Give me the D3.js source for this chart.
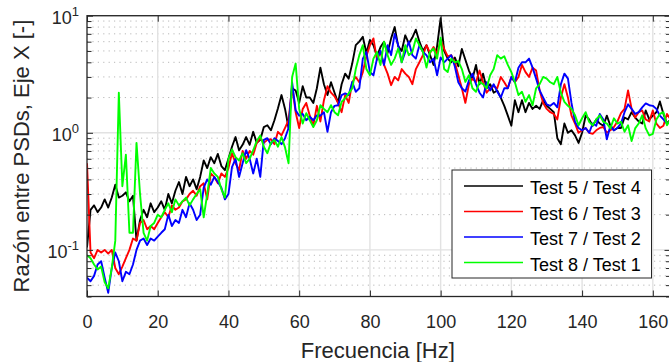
<!DOCTYPE html>
<html><head><meta charset="utf-8">
<script src="https://cdn.jsdelivr.net/npm/d3@7/dist/d3.min.js"></script>
<style>
body{margin:0;background:#fff;}
svg{display:block;font-family:"Liberation Sans",Arial,Helvetica,sans-serif;}
</style>
</head><body>
<svg id="c" width="669" height="362"></svg>
<script>
// ---------- data ----------
const freq = d3.range(0, 166); // Hz, 1 Hz sampling
const test5_4 = [0.105,0.22,0.24,0.21,0.23,0.27,0.23,0.28,0.36,0.28,0.29,0.31,0.26,0.29,0.12,0.18,0.22,0.19,0.25,0.21,0.23,
0.26,0.22,0.3,0.25,0.32,0.38,0.3,0.42,0.35,0.4,0.33,
0.42,0.58,0.5,0.62,0.55,0.66,0.52,0.48,0.6,
0.76,0.92,0.71,0.79,0.92,0.79,1.02,0.82,0.87,1.12,1.16,1.05,1.28,1.62,2.1,1.6,1.1,2.4,2.3,1.8,2.5,
2.0,2.0,1.8,2.4,3.6,2.6,2.1,2.7,2.2,1.8,2.6,3.2,2.9,3.9,5.6,6.0,6.6,4.8,6.2,5.6,4.5,5.4,6.0,4.8,6.4,8.0,5.5,5.0,6.8,5.8,6.5,7.6,6.0,5.0,5.6,4.6,3.8,5.5,9.5,
5.0,4.3,4.0,4.4,3.7,5.2,4.2,3.4,2.9,3.8,2.6,3.2,2.4,2.6,2.2,2.3,2.0,1.7,1.4,1.15,1.9,1.5,1.9,1.5,1.8,1.6,1.7,1.6,1.9,1.7,1.6,
1.5,0.9,0.8,1.2,1.0,1.05,0.95,0.82,1.0,1.4,1.3,1.15,1.3,1.2,1.15,1.4,1.15,1.05,1.1,1.1,1.35,1.3,1.5,1.35,1.25,1.2,1.55,1.3,1.4,1.5,1.85,1.45,1.2,1.3];
const test6_3 = [0.55,0.095,0.085,0.1,0.095,0.1,0.093,0.1,0.07,0.062,0.072,0.085,0.1,0.125,0.12,0.17,0.18,0.15,0.16,0.15,
0.17,0.19,0.21,0.19,0.24,0.22,0.23,0.26,0.27,0.3,0.32,0.29,0.35,0.37,0.27,0.45,0.42,0.37,0.45,0.42,0.5,
0.67,0.55,0.48,0.7,0.6,0.7,0.65,0.82,0.9,0.82,0.87,0.88,0.8,1.02,0.95,1.1,1.28,2.5,1.5,1.1,
1.6,1.8,1.4,1.15,1.7,1.25,1.9,2.5,2.2,2.05,1.8,1.5,2.1,1.8,2.7,3.0,2.7,3.3,4.5,5.6,
6.4,4.2,4.9,3.8,3.2,2.55,3.0,2.8,3.5,3.2,3.0,2.6,3.5,4.0,4.6,5.6,4.8,5.4,4.7,6.2,
5.2,4.5,4.6,4.0,3.1,2.4,1.8,2.6,2.9,2.7,3.4,2.7,2.2,2.4,2.5,2.4,3.0,2.7,2.4,3.0,
2.7,3.0,3.8,3.3,3.0,3.6,3.4,2.3,1.8,1.6,1.5,1.45,1.3,2.0,2.6,2.0,1.4,1.2,1.0,1.05,
1.1,1.0,0.98,1.05,1.1,1.12,1.0,1.05,1.12,1.25,1.47,1.6,2.3,1.6,1.35,1.5,1.55,1.3,1.25,1.55,1.2,1.1,1.15,1.45,1.3];
const test7_2 = [0.058,0.054,0.06,0.075,0.08,0.058,0.043,0.07,0.095,0.08,0.054,0.065,0.062,0.075,0.1,0.12,0.125,0.11,0.125,0.12,0.13,
0.14,0.15,0.2,0.16,0.18,0.17,0.22,0.19,0.25,0.22,0.18,0.2,0.34,0.4,0.36,0.42,0.38,0.34,0.27,0.3,
0.51,0.6,0.42,0.55,0.71,0.6,0.45,0.6,0.42,0.87,0.9,0.8,0.9,0.85,0.8,0.9,1.1,2.7,1.56,1.4,
1.45,1.28,1.37,1.28,1.41,1.4,1.5,1.02,1.5,1.7,1.72,2.1,2.17,2.1,2.72,2.24,2.4,4.3,4.9,3.3,
3.1,4.3,5.0,3.8,5.6,4.6,7.0,5.6,4.0,4.9,6.0,4.6,4.3,5.6,4.9,4.6,4.0,4.3,3.1,4.4,
4.0,4.3,4.6,3.7,2.7,2.4,2.25,2.8,3.2,2.6,2.2,2.0,2.7,2.3,2.6,2.25,2.0,2.4,2.4,3.0,
2.7,3.6,4.0,4.0,4.3,3.6,2.9,2.3,2.0,1.75,1.7,1.8,1.65,2.6,3.2,2.9,1.8,1.24,1.1,1.05,
1.1,1.0,1.2,1.15,1.45,1.3,0.88,1.15,1.05,1.1,1.2,1.5,1.75,1.6,1.45,1.5,1.65,1.78,1.72,1.7,1.6,1.4,1.3,1.2,1.25];
const test8_1 = [0.09,0.085,0.075,0.068,0.072,0.053,0.047,0.07,0.12,2.2,0.35,0.65,0.14,0.14,0.82,0.3,0.14,0.12,0.16,0.17,0.2,
0.19,0.22,0.25,0.21,0.27,0.24,0.26,0.28,0.24,0.27,0.3,
0.33,0.19,0.3,0.5,0.45,0.42,0.33,0.28,0.6,0.72,0.62,0.58,0.67,0.55,0.6,0.71,0.85,0.95,0.76,
0.67,0.82,0.87,0.76,0.92,0.75,0.55,3.0,3.9,1.6,1.2,1.47,1.28,1.12,1.28,
1.72,1.6,1.5,1.72,1.5,1.41,1.84,1.96,2.17,2.39,3.5,4.6,5.6,3.5,3.1,4.3,4.9,3.8,6.0,4.6,
3.8,4.3,5.25,4.0,5.6,4.6,4.9,6.4,5.6,4.9,3.6,4.9,5.25,4.3,6.5,
3.5,3.3,4.3,4.0,4.1,3.5,2.72,3.1,2.4,2.24,2.72,2.6,2.4,3.1,3.5,4.6,4.3,4.5,3.8,3.3,
2.7,2.1,2.24,1.84,2.1,1.72,2.4,2.6,3.0,2.9,2.7,2.6,3.0,2.2,1.84,1.7,1.6,1.41,1.16,1.33,
1.5,1.24,1.16,1.3,1.41,1.24,1.2,1.09,1.33,1.2,1.24,1.02,1.16,0.85,1.09,1.2,1.41,1.09,0.95,0.98,1.3,1.45,1.5,1.16,1.3];

const seriesNames = ["Test 5 / Test 4", "Test 6 / Test 3", "Test 7 / Test 2", "Test 8 / Test 1"];
const seriesValues = [test5_4, test6_3, test7_2, test8_1];
const seriesColors = ["#000000", "#ff0000", "#0000ff", "#00ff00"];
const xTicks = [0, 20, 40, 60, 80, 100, 120, 140, 160];
const yMajor = [0.1, 1, 10];
const yExpLabels = ["-1", "0", "1"];
const xDomain = [0, 165];
const yDomain = [0.04, 10];

// ---------- layout ----------
const L = 87, R = 670.5, T = 15.7, B = 296.5;
const axisColor = "#262626";
const svg = d3.select("#c");
svg.append("rect").attr("width", 669).attr("height", 362).attr("fill", "#fff");

const x = d3.scaleLinear().domain(xDomain).range([L, R]);
const y = d3.scaleLog().domain(yDomain).range([B, T]);

const yMinor = [];
[0.01, 0.1, 1].forEach(d => { for (let k = 2; k <= 9; k++) { const v = d * k; if (v >= yDomain[0] && v <= yDomain[1]) yMinor.push(v); } });

// ---------- grid ----------
const grid = svg.append("g");
grid.selectAll("line.ymin").data(yMinor).join("line")
  .attr("x1", L).attr("x2", R).attr("y1", d => y(d)).attr("y2", d => y(d))
  .attr("stroke", "#b8b8b8").attr("stroke-width", 1).attr("stroke-dasharray", "1.2,4.2");
grid.selectAll("line.xg").data(xTicks.filter(d => d > 0)).join("line")
  .attr("x1", d => x(d)).attr("x2", d => x(d)).attr("y1", T).attr("y2", B)
  .attr("stroke", "#e2e2e2").attr("stroke-width", 1.4);
grid.selectAll("line.yg").data(yMajor).join("line")
  .attr("x1", L).attr("x2", R).attr("y1", d => y(d)).attr("y2", d => y(d))
  .attr("stroke", "#e2e2e2").attr("stroke-width", 1.4);

// ---------- lines ----------
svg.append("clipPath").attr("id", "clip").append("rect")
  .attr("x", L).attr("y", T).attr("width", R - L).attr("height", B - T);
const line = d3.line().x((d, i) => x(freq[i])).y(d => y(d));
const plot = svg.append("g").attr("clip-path", "url(#clip)");
seriesValues.forEach((vals, k) => {
  plot.append("path").datum(vals).attr("d", line)
    .attr("fill", "none").attr("stroke", seriesColors[k])
    .attr("stroke-width", 1.9).attr("stroke-linejoin", "round");
});

// ---------- axes ----------
function styleAxis(g) {
  g.select(".domain").remove();
  g.selectAll(".tick line").attr("stroke", axisColor).attr("stroke-width", 1);
  g.selectAll(".tick text").attr("fill", axisColor);
}
svg.append("g").attr("transform", `translate(0,${B})`)
  .call(d3.axisBottom(x).tickValues(xTicks).tickSize(-6).tickPadding(18.5).tickFormat(d3.format("d")))
  .call(styleAxis)
  .call(g => g.selectAll(".tick text").attr("font-size", 18).attr("font-family", "Liberation Sans, Arial, sans-serif"));
svg.append("g").attr("transform", `translate(0,${T})`)
  .call(d3.axisTop(x).tickValues(xTicks).tickSize(-6).tickFormat(""))
  .call(styleAxis);
svg.append("g").attr("transform", `translate(${L},0)`)
  .call(d3.axisLeft(y).tickValues(yMajor).tickSize(-6).tickFormat(""))
  .call(styleAxis);
svg.append("g").attr("transform", `translate(${L},0)`)
  .call(d3.axisLeft(y).tickValues(yMinor).tickSize(-4.5).tickFormat(""))
  .call(styleAxis);
svg.append("g").attr("transform", `translate(${R},0)`)
  .call(d3.axisRight(y).tickValues(yMajor).tickSize(-6).tickFormat(""))
  .call(styleAxis);
svg.append("g").attr("transform", `translate(${R},0)`)
  .call(d3.axisRight(y).tickValues(yMinor).tickSize(-4.5).tickFormat(""))
  .call(styleAxis);

// y tick labels 10^n
const yl = svg.append("g").attr("fill", axisColor).attr("font-size", 18);
yMajor.forEach((v, i) => {
  const t = yl.append("text").attr("x", L - 8).attr("y", y(v) + 8).attr("text-anchor", "end");
  t.append("tspan").text("10");
  t.append("tspan").attr("dy", -8).attr("font-size", 13).text(yExpLabels[i]);
});

// box
svg.append("rect").attr("x", L).attr("y", T).attr("width", R - L).attr("height", B - T)
  .attr("fill", "none").attr("stroke", axisColor).attr("stroke-width", 1.3);

// axis labels
svg.append("text").attr("x", (L + R) / 2 - 1).attr("y", 357.5).attr("text-anchor", "middle")
  .attr("font-size", 22).attr("fill", axisColor).text("Frecuencia [Hz]");
svg.append("text").attr("transform", `translate(29,${(T + B) / 2}) rotate(-90)`)
  .attr("text-anchor", "middle").attr("font-size", 22).attr("fill", axisColor)
  .text("Razón entre PSDs, Eje X [-]");

// ---------- legend ----------
const lg = svg.append("g");
lg.append("rect").attr("x", 452).attr("y", 170).attr("width", 199.5).attr("height", 108)
  .attr("fill", "#fff").attr("stroke", axisColor).attr("stroke-width", 1);
seriesNames.forEach((name, i) => {
  const ry = 186 + i * 25.5;
  lg.append("line").attr("x1", 464).attr("x2", 523).attr("y1", ry).attr("y2", ry)
    .attr("stroke", seriesColors[i]).attr("stroke-width", 1.3);
  lg.append("text").attr("x", 530).attr("y", ry + 8).attr("font-size", 18)
    .attr("fill", "#000").text(name);
});
</script>
</body></html>
